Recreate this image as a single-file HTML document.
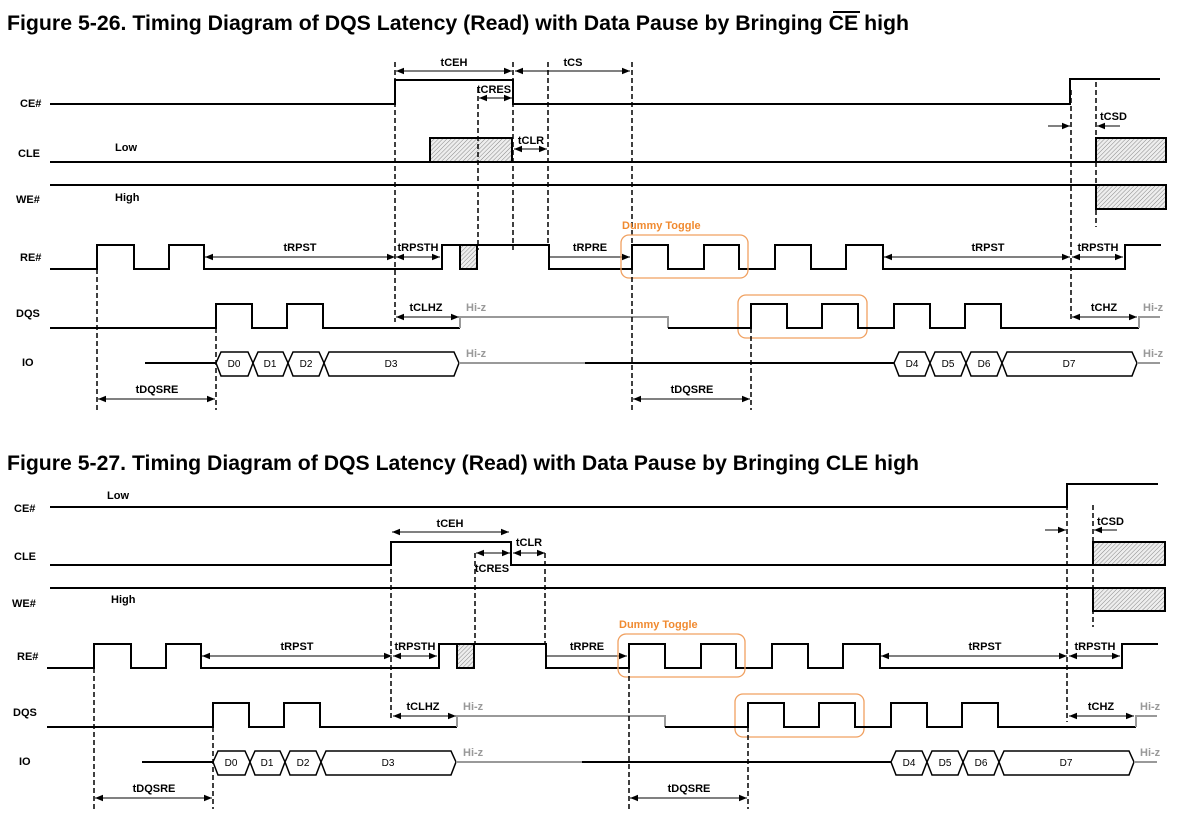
<!DOCTYPE html>
<html><head><meta charset="utf-8"><style>
html,body{margin:0;padding:0;background:#fff;width:1189px;height:814px;overflow:hidden}
svg{display:block}
.t{font-family:"Liberation Sans",sans-serif;font-weight:bold;font-size:11px;fill:#000}
.ti{font-family:"Liberation Sans",sans-serif;font-weight:bold;font-size:21px;fill:#000}
.s{fill:none;stroke:#000;stroke-width:2}
.g{fill:none;stroke:#999;stroke-width:2}
.d{fill:none;stroke:#000;stroke-width:1.5;stroke-dasharray:5,3}
.a{stroke:#000;stroke-width:1;marker-start:url(#m);marker-end:url(#m)}
.e{stroke:#000;stroke-width:1;marker-end:url(#m)}
.h{fill:url(#hp);stroke:#000;stroke-width:2}
.hx{fill:#fff;stroke:#000;stroke-width:1.5}
.dt{font-family:"Liberation Sans",sans-serif;font-size:10px;fill:#000;text-anchor:middle}
.gz{font-family:"Liberation Sans",sans-serif;font-weight:bold;font-size:11px;fill:#999}
.o{fill:none;stroke:#f0a060;stroke-width:1.3}
.ot{font-family:"Liberation Sans",sans-serif;font-weight:bold;font-size:11px;fill:#f08a30}
.c{text-anchor:middle}
</style></head><body>
<svg width="1189" height="814" viewBox="0 0 1189 814" xmlns="http://www.w3.org/2000/svg">
<defs>
<marker id="m" viewBox="0 0 10 10" refX="10" refY="5" markerWidth="8" markerHeight="8" markerUnits="userSpaceOnUse" orient="auto-start-reverse"><path d="M0,1 L10,5 L0,9 z" fill="#000"/></marker>
<pattern id="hp" width="3" height="3" patternUnits="userSpaceOnUse" patternTransform="rotate(45)"><rect width="3" height="3" fill="#eee"/><line x1="0" y1="0" x2="0" y2="3" stroke="#888" stroke-width="1"/></pattern>
<g id="low">
<polyline class="s" points="50,269 97,269 97,245 134,245 134,269 169,269 169,245 204,245 204,269 442,269 442,245 549,245 549,269 632,269 632,245 668,245 668,269 704,269 704,245 739,245 739,269 775,269 775,245 811,245 811,269 846,269 846,245 883,245 883,269 1125,269 1125,245 1161,245"/>
<rect class="h" x="460" y="245" width="17" height="24" stroke-width="1.5"/>
<text class="t" x="20" y="261">RE#</text>
<text class="t" x="16" y="317">DQS</text>
<text class="t" x="22" y="366">IO</text>
<line class="a" x1="205" y1="257" x2="395" y2="257"/><text class="t c" x="300" y="251">tRPST</text>
<line class="a" x1="396" y1="257" x2="440" y2="257"/><text class="t c" x="418" y="251">tRPSTH</text>
<line class="e" x1="550" y1="257" x2="630" y2="257"/><text class="t c" x="590" y="251">tRPRE</text>
<line class="a" x1="884" y1="257" x2="1070" y2="257"/><text class="t c" x="988" y="251">tRPST</text>
<line class="a" x1="1072" y1="257" x2="1123" y2="257"/><text class="t c" x="1098" y="251">tRPSTH</text>
<text class="ot" x="622" y="229">Dummy Toggle</text>
<rect class="o" x="621" y="235" width="127" height="43" rx="8"/>
<rect class="o" x="738" y="295" width="129" height="43" rx="8"/>
<polyline class="s" points="50,328 216,328 216,304 252,304 252,328 287,328 287,304 323,304 323,328 460,328"/>
<polyline class="g" points="460,328 460,317 668,317 668,328"/>
<polyline class="s" points="668,328 751,328 751,304 787,304 787,328 822,328 822,304 858,304 858,328 894,328 894,304 930,304 930,328 965,328 965,304 1001,304 1001,328 1139,328"/>
<polyline class="g" points="1139,328 1139,317 1160,317"/>
<line class="a" x1="396" y1="317" x2="459" y2="317"/><text class="t c" x="426" y="311">tCLHZ</text>
<text class="gz" x="466" y="311">Hi-z</text>
<line class="a" x1="1072" y1="317" x2="1137" y2="317"/><text class="t c" x="1104" y="311">tCHZ</text>
<text class="gz" x="1143" y="311">Hi-z</text>
<line class="s" x1="145" y1="363" x2="216" y2="363" stroke-width="1.5"/>
<polygon class="hx" points="216,363 221,352 248,352 253,363 248,376 221,376"/><text class="dt" x="234" y="367">D0</text>
<polygon class="hx" points="253,363 258,352 283,352 288,363 283,376 258,376"/><text class="dt" x="270" y="367">D1</text>
<polygon class="hx" points="288,363 293,352 319,352 324,363 319,376 293,376"/><text class="dt" x="306" y="367">D2</text>
<polygon class="hx" points="324,363 329,352 454,352 459,363 454,376 329,376"/><text class="dt" x="391" y="367">D3</text>
<line class="g" x1="459" y1="363" x2="585" y2="363" stroke-width="1.5"/>
<line class="s" x1="585" y1="363" x2="894" y2="363" stroke-width="1.5"/>
<polygon class="hx" points="894,363 899,352 925,352 930,363 925,376 899,376"/><text class="dt" x="912" y="367">D4</text>
<polygon class="hx" points="930,363 935,352 961,352 966,363 961,376 935,376"/><text class="dt" x="948" y="367">D5</text>
<polygon class="hx" points="966,363 971,352 997,352 1002,363 997,376 971,376"/><text class="dt" x="984" y="367">D6</text>
<polygon class="hx" points="1002,363 1007,352 1132,352 1137,363 1132,376 1007,376"/><text class="dt" x="1069" y="367">D7</text>
<line class="g" x1="1137" y1="363" x2="1160" y2="363" stroke-width="1.5"/>
<text class="gz" x="466" y="357">Hi-z</text>
<text class="gz" x="1143" y="357">Hi-z</text>
<line class="a" x1="98" y1="399" x2="215" y2="399"/><text class="t c" x="157" y="393">tDQSRE</text>
<line class="a" x1="633" y1="399" x2="750" y2="399"/><text class="t c" x="692" y="393">tDQSRE</text>
<line class="d" x1="97" y1="269" x2="97" y2="410"/>
<line class="d" x1="216" y1="328" x2="216" y2="410"/>
<line class="d" x1="751" y1="328" x2="751" y2="410"/>
<line class="d" x1="632" y1="245" x2="632" y2="410"/>
</g>
</defs>

<text class="ti" x="7" y="30" textLength="902" lengthAdjust="spacingAndGlyphs">Figure 5-26. Timing Diagram of DQS Latency (Read) with Data Pause by Bringing CE high</text>
<line x1="833" y1="12" x2="860" y2="12" stroke="#000" stroke-width="2"/>
<text class="ti" x="7" y="470" textLength="912" lengthAdjust="spacingAndGlyphs">Figure 5-27. Timing Diagram of DQS Latency (Read) with Data Pause by Bringing CLE high</text>

<!-- Figure 1 top -->
<text class="t" x="20" y="107">CE#</text>
<text class="t" x="18" y="157">CLE</text>
<text class="t" x="16" y="203">WE#</text>
<text class="t" x="115" y="151">Low</text>
<text class="t" x="115" y="201">High</text>
<polyline class="s" points="50,104 395,104 395,80 513,80 513,104 1070,104 1070,79 1160,79"/>
<line class="s" x1="50" y1="162" x2="1096" y2="162"/>
<rect class="h" x="430" y="138" width="82" height="24"/>
<rect class="h" x="1096" y="138" width="70" height="24"/>
<line class="s" x1="50" y1="185" x2="1096" y2="185"/>
<rect class="h" x="1096" y="185" width="70" height="24"/>
<line class="a" x1="396" y1="71" x2="512" y2="71"/><text class="t c" x="454" y="66">tCEH</text>
<line class="a" x1="515" y1="71" x2="630" y2="71" stroke="#555"/><text class="t c" x="573" y="66">tCS</text>
<line class="a" x1="479" y1="98" x2="512" y2="98"/><text class="t c" x="494" y="93">tCRES</text>
<line class="a" x1="514" y1="149" x2="547" y2="149"/><text class="t c" x="531" y="144">tCLR</text>
<line class="d" x1="395" y1="62" x2="395" y2="322"/>
<line class="d" x1="478" y1="88" x2="478" y2="250"/>
<line class="d" x1="513" y1="62" x2="513" y2="250"/>
<line class="d" x1="548" y1="62" x2="548" y2="245"/>
<line class="d" x1="632" y1="62" x2="632" y2="245"/>
<line class="d" x1="1071" y1="90" x2="1071" y2="322"/>
<line class="d" x1="1096" y1="82" x2="1096" y2="227"/>
<line class="e" x1="1048" y1="126" x2="1070" y2="126"/>
<line class="e" x1="1120" y1="126" x2="1097" y2="126"/>
<text class="t" x="1100" y="120">tCSD</text>
<use href="#low"/>

<!-- Figure 2 top -->
<text class="t" x="14" y="512">CE#</text>
<text class="t" x="14" y="560">CLE</text>
<text class="t" x="12" y="607">WE#</text>
<text class="t" x="107" y="499">Low</text>
<text class="t" x="111" y="603">High</text>
<polyline class="s" points="50,507 1067,507 1067,484 1158,484"/>
<polyline class="s" points="50,565 391,565 391,542 511,542 511,565 1093,565"/>
<rect class="h" x="1093" y="542" width="72" height="23"/>
<line class="s" x1="50" y1="588" x2="1093" y2="588"/>
<rect class="h" x="1093" y="588" width="72" height="23"/>
<line class="a" x1="392" y1="532" x2="509" y2="532"/><text class="t c" x="450" y="527">tCEH</text>
<line class="a" x1="513" y1="553" x2="545" y2="553"/><text class="t c" x="529" y="546">tCLR</text>
<line class="a" x1="476" y1="553" x2="510" y2="553"/><text class="t c" x="492" y="572">tCRES</text>
<line class="d" x1="391" y1="545" x2="391" y2="720"/>
<line class="d" x1="475" y1="553" x2="475" y2="645"/>
<line class="d" x1="545" y1="553" x2="545" y2="645"/>
<line class="d" x1="1067" y1="505" x2="1067" y2="722"/>
<line class="d" x1="1093" y1="505" x2="1093" y2="627"/>
<line class="e" x1="1045" y1="530" x2="1066" y2="530"/>
<line class="e" x1="1117" y1="530" x2="1094" y2="530"/>
<text class="t" x="1097" y="525">tCSD</text>
<use href="#low" transform="translate(-3,399)"/>
</svg>
</body></html>
